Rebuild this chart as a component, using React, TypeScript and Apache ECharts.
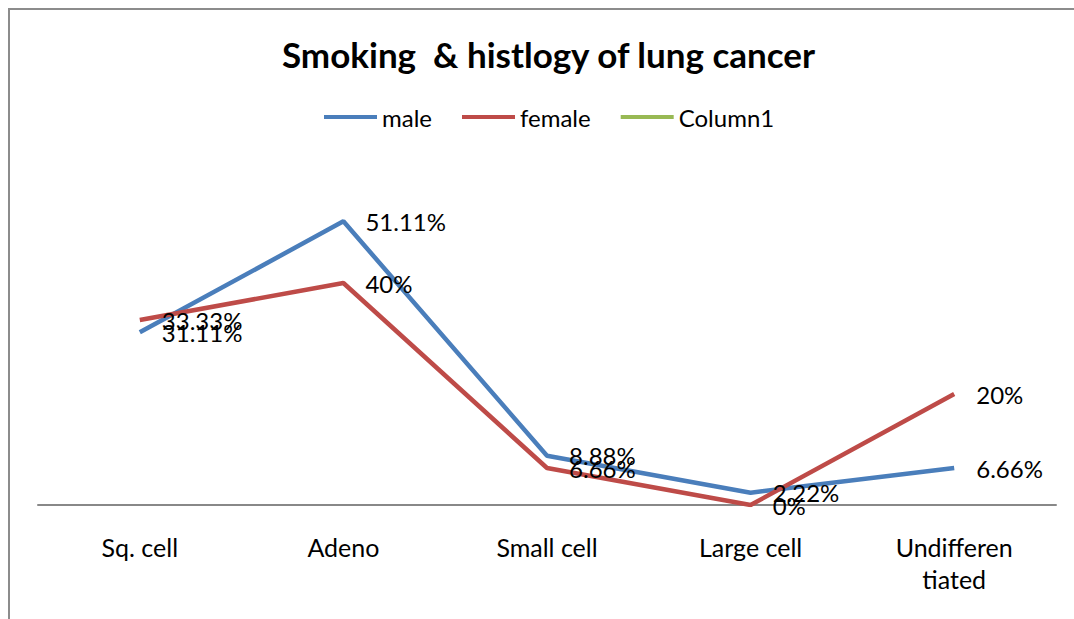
import React, { useEffect, useRef } from "react";
import * as echarts from "echarts";

const categories = ["Sq. cell", "Adeno", "Small cell", "Large cell", "Undifferen\ntiated"];
const maleValues = [31.11, 51.11, 8.88, 2.22, 6.66];
const femaleValues = [33.33, 40, 6.66, 0, 20];
const column1Values: (number | null)[] = [null, null, null, null, null];
const titleText = "Smoking  & histlogy of lung cancer";

const FONT = "Lato, 'Open Sans', sans-serif";

export default function App() {
  const ref = useRef<HTMLDivElement>(null);
  useEffect(() => {
    if (!ref.current) return;
    const chart = echarts.init(ref.current, null, { renderer: "svg" });
    const labelCfg = {
      show: true,
      position: "right" as const,
      distance: 22,
      color: "#000",
      fontSize: 24,
      fontFamily: FONT,
      formatter: (p: any) => `${p.value}%`,
    };
    chart.setOption({
      animation: false,
      backgroundColor: "#fff",
      textStyle: { fontFamily: FONT },
      title: {
        text: titleText,
        left: 277,
        top: 31,
        textStyle: { fontSize: 35, fontWeight: "bold", color: "#000", fontFamily: FONT },
      },
      legend: {
        top: 100,
        left: 319,
        itemWidth: 53,
        itemHeight: 4,
        itemGap: 30,
        icon: "rect",
        textStyle: { fontSize: 24, color: "#000", fontFamily: FONT },
        data: ["male", "female", "Column1"],
      },
      graphic: [
        {
          type: "rect",
          shape: { x: 9, y: 9, width: 1200, height: 800 },
          style: { fill: "none", stroke: "#8c8c8c", lineWidth: 2 },
          silent: true,
        },
      ],
      grid: { left: 38, right: 18, top: 172, bottom: 114, containLabel: false },
      xAxis: {
        type: "category",
        data: categories,
        boundaryGap: true,
        axisLine: { show: true, lineStyle: { color: "#888", width: 2 } },
        axisTick: { show: false },
        axisLabel: {
          color: "#000",
          fontSize: 25,
          fontFamily: FONT,
          margin: 26,
          lineHeight: 32,
          interval: 0,
        },
      },
      yAxis: {
        type: "value",
        min: 0,
        max: 60,
        show: false,
        splitLine: { show: false },
      },
      series: [
        {
          name: "male",
          type: "line",
          data: maleValues,
          symbol: "circle",
          symbolSize: 0.1,
          color: "#4A7EBB",
          lineStyle: { width: 4.5, color: "#4A7EBB" },
          label: labelCfg,
        },
        {
          name: "female",
          type: "line",
          data: femaleValues,
          symbol: "circle",
          symbolSize: 0.1,
          color: "#BE4B48",
          lineStyle: { width: 4.5, color: "#BE4B48" },
          label: labelCfg,
        },
        {
          name: "Column1",
          type: "line",
          data: column1Values,
          symbol: "none",
          color: "#98B954",
          lineStyle: { width: 4.5, color: "#98B954" },
        },
      ],
    });
    return () => chart.dispose();
  }, []);
  return (
    <div
      ref={ref}
      style={{ position: "absolute", left: 0, top: 0, width: 1074, height: 619 }}
    />
  );
}
